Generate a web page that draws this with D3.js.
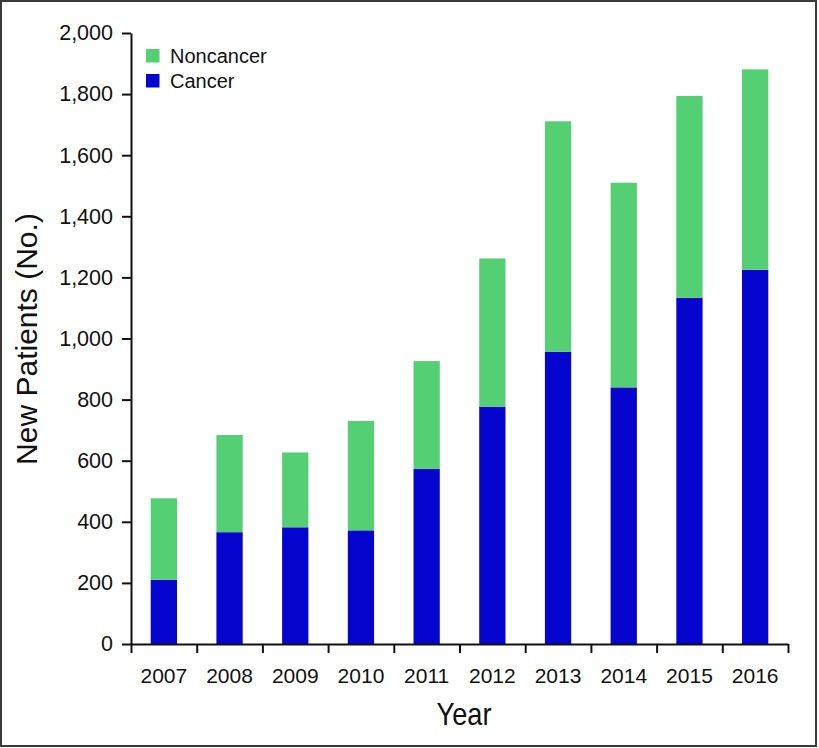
<!DOCTYPE html>
<html>
<head>
<meta charset="utf-8">
<script src="https://cdn.jsdelivr.net/npm/d3@7"></script>
<style>
  html, body { margin: 0; padding: 0; background: #fff; }
  svg { display: block; }
</style>
</head>
<body>
<svg id="chart" width="819" height="748"></svg>
<script>
const years = ["2007","2008","2009","2010","2011","2012","2013","2014","2015","2016"];
const cancer = [210, 366, 382, 372, 573, 777, 957, 840, 1133, 1225];
const totals = [477, 684, 627, 730, 926, 1262, 1711, 1510, 1794, 1881];
const noncancer = totals.map((t, i) => t - cancer[i]);
const seriesNames = ["Noncancer", "Cancer"];
const seriesColors = { Noncancer: "#55cf73", Cancer: "#0505cf" };
const yTicks = [0, 200, 400, 600, 800, 1000, 1200, 1400, 1600, 1800, 2000];

const svg = d3.select("#chart");
const FONT = "'Liberation Sans', Arial, Helvetica, sans-serif";

// border
svg.append("rect").attr("x", 1).attr("y", 1).attr("width", 815).attr("height", 745)
  .attr("fill", "none").attr("stroke", "#3a3a3a").attr("stroke-width", 2);

const plotLeft = 131, plotRight = 788, plotTop = 33, plotBottom = 644;

const x = d3.scaleBand().domain(years).range([plotLeft, plotRight]).paddingInner(0.6).paddingOuter(0.3);
const xb = d3.scaleLinear().domain([0, years.length]).range([plotLeft, plotRight]);
const y = d3.scaleLinear().domain([0, 2000]).range([plotBottom, plotTop]);

const table = years.map((yr, i) => ({ year: yr, Cancer: cancer[i], Noncancer: noncancer[i] }));
const stack = d3.stack().keys(["Cancer", "Noncancer"]);
const layers = stack(table);

svg.append("g").selectAll("g").data(layers).join("g")
  .attr("fill", d => seriesColors[d.key])
  .selectAll("rect").data(d => d).join("rect")
  .attr("x", d => x(d.data.year))
  .attr("width", x.bandwidth())
  .attr("y", d => y(d[1]))
  .attr("height", d => y(d[0]) - y(d[1]));

// y axis
const yAxis = svg.append("g").attr("transform", `translate(${plotLeft},0)`)
  .call(d3.axisLeft(y).tickValues(yTicks).tickSize(9).tickPadding(9).tickFormat(d3.format(",")).tickSizeOuter(0));
yAxis.select(".domain").attr("stroke", "#111").attr("stroke-width", 2);
yAxis.selectAll(".tick line").attr("stroke", "#111").attr("stroke-width", 2);
yAxis.selectAll("text").attr("font-family", FONT)
  .attr("font-size", 21.5).attr("fill", "#111");

// x axis ticks at band boundaries
const xAxisTicks = svg.append("g").attr("transform", `translate(0,${plotBottom})`)
  .call(d3.axisBottom(xb).tickValues(d3.range(0, years.length + 1)).tickSize(9).tickFormat("").tickSizeOuter(0));
xAxisTicks.select(".domain").attr("stroke", "#111").attr("stroke-width", 2);
xAxisTicks.selectAll(".tick line").attr("stroke", "#111").attr("stroke-width", 2);

// x labels
const xAxis = svg.append("g").attr("transform", `translate(0,${plotBottom})`)
  .call(d3.axisBottom(x).tickSize(0).tickPadding(24));
xAxis.select(".domain").remove();
xAxis.selectAll("text").attr("font-family", FONT)
  .attr("font-size", 21).attr("fill", "#111");

// axis titles
svg.append("g").attr("transform", "translate(464,725) scale(0.85,1)")
  .append("text").attr("text-anchor", "middle")
  .attr("font-family", FONT)
  .attr("font-size", 32).attr("fill", "#111").text("Year");

svg.append("text").attr("transform", `translate(37,339) rotate(-90)`).attr("text-anchor", "middle")
  .attr("font-family", FONT)
  .attr("font-size", 30).attr("fill", "#111").text("New Patients (No.)");

// legend
const legend = svg.append("g");
seriesNames.forEach((name, i) => {
  const g = legend.append("g").attr("transform", `translate(146,${49 + i * 25})`);
  g.append("rect").attr("width", 13.5).attr("height", 13.5).attr("fill", seriesColors[name]);
  g.append("text").attr("x", 24).attr("y", 13.5).attr("font-family", FONT)
    .attr("font-size", 20).attr("fill", "#111").text(name);
});
</script>
</body>
</html>
